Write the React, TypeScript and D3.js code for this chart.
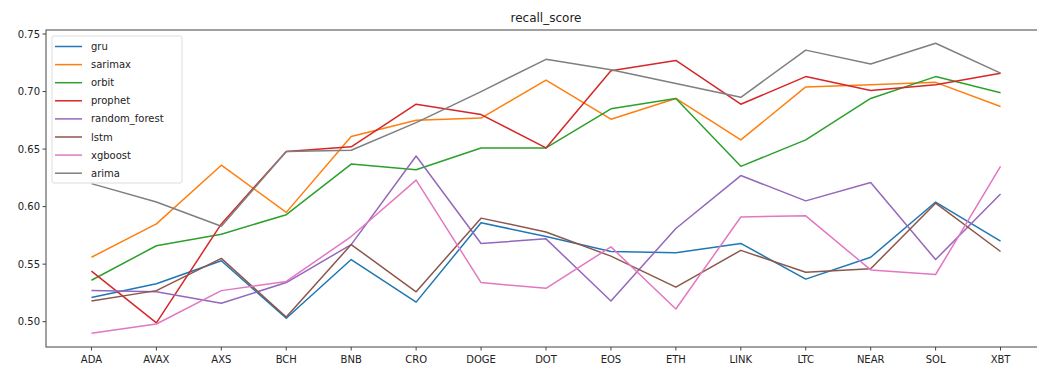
import React from 'react';
import * as d3 from 'd3';

const coins = ['ADA', 'AVAX', 'AXS', 'BCH', 'BNB', 'CRO', 'DOGE', 'DOT', 'EOS', 'ETH', 'LINK', 'LTC', 'NEAR', 'SOL', 'XBT'];
const yTicks = [0.5, 0.55, 0.6, 0.65, 0.7, 0.75];

const gru = [0.521, 0.533, 0.553, 0.503, 0.554, 0.517, 0.586, 0.574, 0.561, 0.560, 0.568, 0.537, 0.556, 0.604, 0.570];
const sarimax = [0.556, 0.585, 0.636, 0.595, 0.661, 0.675, 0.677, 0.710, 0.676, 0.694, 0.658, 0.704, 0.706, 0.708, 0.687];
const orbit = [0.536, 0.566, 0.576, 0.593, 0.637, 0.632, 0.651, 0.651, 0.685, 0.694, 0.635, 0.658, 0.694, 0.713, 0.699];
const prophet = [0.544, 0.499, 0.585, 0.648, 0.652, 0.689, 0.680, 0.651, 0.718, 0.727, 0.689, 0.713, 0.701, 0.706, 0.716];
const randomForest = [0.527, 0.526, 0.516, 0.534, 0.567, 0.644, 0.568, 0.572, 0.518, 0.581, 0.627, 0.605, 0.621, 0.554, 0.611];
const lstm = [0.518, 0.527, 0.555, 0.504, 0.567, 0.526, 0.590, 0.578, 0.557, 0.530, 0.562, 0.543, 0.546, 0.603, 0.561];
const xgboost = [0.490, 0.498, 0.527, 0.535, 0.574, 0.623, 0.534, 0.529, 0.565, 0.511, 0.591, 0.592, 0.545, 0.541, 0.635];
const arima = [0.620, 0.604, 0.583, 0.648, 0.649, 0.673, 0.700, 0.728, 0.719, 0.707, 0.695, 0.736, 0.724, 0.742, 0.716];

const series = [
  { name: 'gru', values: gru, color: '#1f77b4' },
  { name: 'sarimax', values: sarimax, color: '#ff7f0e' },
  { name: 'orbit', values: orbit, color: '#2ca02c' },
  { name: 'prophet', values: prophet, color: '#d62728' },
  { name: 'random_forest', values: randomForest, color: '#9467bd' },
  { name: 'lstm', values: lstm, color: '#8c564b' },
  { name: 'xgboost', values: xgboost, color: '#e377c2' },
  { name: 'arima', values: arima, color: '#7f7f7f' },
];

const W = 1037;
const H = 369;
const margin = { top: 30, right: -9, bottom: 22, left: 46 };
const font = 'DejaVu Sans, sans-serif';

export default function App() {
  const x = d3.scaleLinear()
    .domain([-0.7, coins.length - 1 + 0.7])
    .range([margin.left, W - margin.right]);
  const y = d3.scaleLinear()
    .domain([0.478, 0.7535])
    .range([H - margin.bottom, margin.top]);

  const line = d3.line<number>()
    .x((_, i) => x(i))
    .y(d => y(d));

  const bottom = H - margin.bottom;
  const right = W - margin.right;

  return (
    <svg width={W} height={H} style={{ position: 'absolute', left: 0, top: 0, background: '#fff' }} fontFamily={font}>
      <text x={(margin.left + right) / 2} y={22} textAnchor="middle" fontSize={12} fill="#222">recall_score</text>

      {series.map(s => (
        <path key={s.name} d={line(s.values) || ''} fill="none" stroke={s.color} strokeWidth={1.5} strokeLinejoin="round" />
      ))}

      {/* frame */}
      <rect x={margin.left} y={margin.top} width={right - margin.left} height={bottom - margin.top} fill="none" stroke="#444" strokeWidth={1} />

      {/* y axis */}
      {yTicks.map(t => (
        <g key={t} transform={`translate(${margin.left},${y(t)})`}>
          <line x1={-3.5} x2={0} stroke="#444" />
          <text x={-6} dy="0.35em" textAnchor="end" fontSize={10} fill="#222">{t.toFixed(2)}</text>
        </g>
      ))}

      {/* x axis */}
      {coins.map((c, i) => (
        <g key={c} transform={`translate(${x(i)},${bottom})`}>
          <line y1={0} y2={3.5} stroke="#444" />
          <text y={16} textAnchor="middle" fontSize={10} fill="#222">{c}</text>
        </g>
      ))}

      {/* legend */}
      <g>
        <rect x={52} y={36} width={130} height={147} rx={2} fill="#fff" fillOpacity={0.8} stroke="#ddd" />
        {series.map((s, i) => (
          <g key={s.name} transform={`translate(55,${46.5 + i * 18.1})`}>
            <line x1={0} x2={27} stroke={s.color} strokeWidth={1.5} />
            <text x={36} dy="0.35em" fontSize={10} fill="#222">{s.name}</text>
          </g>
        ))}
      </g>
    </svg>
  );
}
